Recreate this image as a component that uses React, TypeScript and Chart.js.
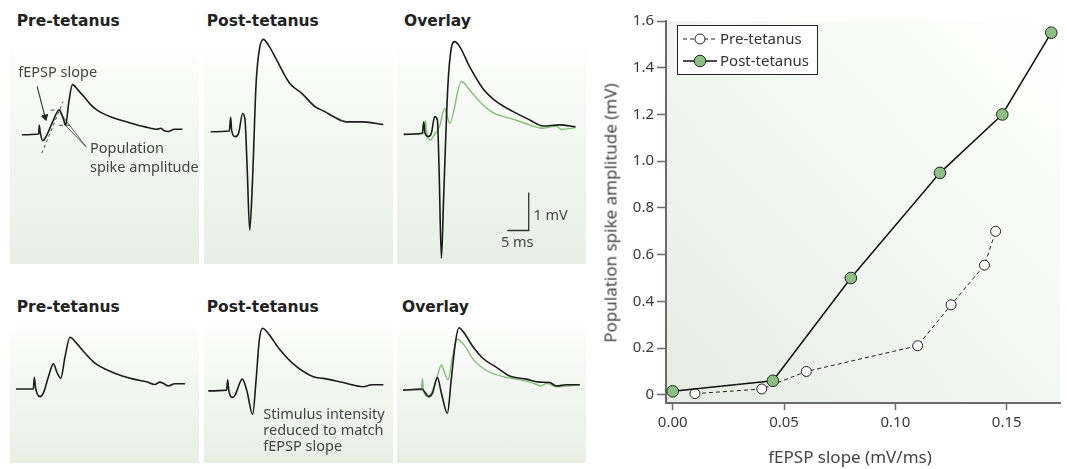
import React, { useEffect, useRef } from 'react';
import { Chart, registerables } from 'chart.js';
Chart.register(...registerables);

type Pt = [number, number];

// ---------- Right chart data ----------
const preSlope = [0.01, 0.04, 0.06, 0.11, 0.125, 0.14, 0.145];
const preAmp = [0.005, 0.025, 0.1, 0.21, 0.385, 0.555, 0.7];
const postSlope = [0, 0.045, 0.08, 0.12, 0.148, 0.17];
const postAmp = [0.015, 0.06, 0.5, 0.95, 1.2, 1.55];
const xTicks = [0, 0.05, 0.1, 0.15];
const yTicks = [0, 0.2, 0.4, 0.6, 0.8, 1.0, 1.2, 1.4, 1.6];

// ---------- Trace data: [time (ms), voltage (mV)] ----------
const preTop: Pt[] = [[1.7, 0], [5.86, 0.02], [6.0, 0.26], [6.25, 0.06], [6.86, -0.16], [7.5, -0.09], [9.37, 0.37], [10.9, 0.68], [11.9, 0.46], [12.5, 0.26], [13.3, 0.89], [14.2, 1.38], [15.6, 1.23], [17.2, 1.03], [18.7, 0.83], [20.3, 0.68], [22.6, 0.54], [25.0, 0.44], [28.1, 0.34], [30.4, 0.26], [32.8, 0.2], [35.1, 0.15], [36.1, 0.18], [36.7, 0.12], [37.9, 0.09], [39.4, 0.15], [41.4, 0.15]];
const postTop: Pt[] = [[1.56, 0.06], [5.93, 0.08], [6.25, 0.44], [6.48, 0.09], [7.33, -0.07], [8.1, 0.02], [9.06, 0.54], [9.6, 0.37], [10.1, -0.86], [10.7, -2.53], [11.3, -1.39], [12.2, 1.33], [12.95, 2.21], [13.9, 2.49], [15.1, 2.34], [17.0, 1.95], [20.1, 1.33], [22.9, 1.07], [26.0, 0.72], [28.3, 0.59], [30.3, 0.46], [33.4, 0.32], [37.3, 0.32], [42.0, 0.25]];
const overlayTopPost: Pt[] = [[1.57, -0.01], [5.94, 0.02], [6.25, 0.32], [6.56, 0.03], [7.26, -0.07], [8.05, 0.02], [8.83, 0.46], [9.46, 0.37], [9.84, -0.86], [10.4, -3.27], [10.9, -1.74], [11.9, 1.24], [12.7, 2.25], [13.5, 2.43], [14.7, 2.3], [17.0, 1.77], [20.1, 1.2], [23.3, 0.85], [27.2, 0.59], [31.1, 0.37], [34.2, 0.21], [38.1, 0.24], [41.8, 0.19]];
const overlayTopPre: Pt[] = [[1.57, -0.01], [6.25, 0.02], [6.65, 0.35], [6.96, 0.03], [7.82, -0.16], [8.43, -0.07], [10.0, 0.21], [11.17, 0.68], [11.7, 0.5], [12.33, 0.28], [15.08, 1.38], [17.0, 1.16], [19.4, 0.85], [22.5, 0.56], [27.2, 0.39], [31.1, 0.24], [34.2, 0.15], [37.3, 0.21], [38.5, 0.12], [41.8, 0.17]];
const preBottom: Pt[] = [[1.4, 0], [5.46, 0], [5.7, 0.31], [6.0, 0.02], [7.03, -0.2], [7.8, -0.11], [9.0, 0.32], [10.15, 0.66], [11.1, 0.41], [11.9, 0.28], [12.9, 0.86], [14.05, 1.36], [15.6, 1.2], [17.6, 0.94], [19.9, 0.68], [24.2, 0.43], [28.9, 0.26], [32.0, 0.19], [33.9, 0.12], [35.1, 0.18], [35.9, 0.15], [37.1, 0.08], [38.6, 0.14], [41.0, 0.14]];
const postBottom: Pt[] = [[1.0, -0.05], [5.3, -0.03], [5.55, 0.24], [5.8, -0.03], [6.7, -0.22], [7.26, -0.16], [8.97, 0.26], [10.0, -0.03], [11.4, -0.67], [12.2, 0.24], [12.95, 1.29], [13.75, 1.6], [14.7, 1.51], [17.8, 1.03], [20.9, 0.66], [25.6, 0.32], [28.0, 0.28], [32.6, 0.17], [37.3, 0.06], [39.3, 0.11], [42.0, 0.11]];
const overlayBottomPost: Pt[] = [[1.4, -0.03], [5.7, 0], [7.5, -0.2], [8.3, -0.11], [9.46, 0.3], [10.4, -0.11], [11.8, -0.64], [12.7, 0.24], [13.7, 1.24], [14.5, 1.61], [15.5, 1.51], [17.8, 1.11], [20.1, 0.81], [23.3, 0.57], [26.4, 0.34], [30.3, 0.26], [33.4, 0.18], [35.8, 0.17], [37.3, 0.08], [39.7, 0.11], [42.8, 0.11]];
const overlayBottomPre: Pt[] = [[1.4, -0.03], [5.7, -0.03], [5.94, 0.28], [6.2, -0.03], [7.26, -0.2], [8.05, -0.11], [9.4, 0.32], [10.4, 0.63], [11.2, 0.41], [11.95, 0.24], [13.0, 0.85], [14.1, 1.31], [15.7, 1.16], [18.0, 0.76], [21.1, 0.48], [25.0, 0.32], [28.9, 0.24], [32.0, 0.15], [33.6, 0.08], [35.1, 0.15], [37.5, 0.06], [42.8, 0.11]];

// annotation guides (ms, mV)
const slopeGuide: Pt[] = [[6.63, -0.51], [11.87, 0.91]];
const slopeArrow: Pt[] = [[5.46, 1.33], [7.43, 0.49]];
const spikeTopDash: Pt[] = [[8.8, 0.68], [11.5, 0.68]];
const spikeBottomDash: Pt[] = [[10.9, 0.26], [14.2, 0.26]];
const leaderA: Pt[] = [[11.08, 0.61], [17.56, -0.33]];
const leaderB: Pt[] = [[12.48, 0.26], [17.56, -0.33]];
const scaleBar: Pt[] = [[25.85, -2.54], [30.85, -2.54], [30.85, -1.54]];

// ---------- layout ----------
const PX_PER_MS = 4.27;
const PX_PER_MV = 38;
const COLS = [10, 204, 397];
const PANEL_W = 189;
const ROWS = [
  { top: 38, h: 226, base: 96 },
  { top: 320, h: 143, base: 69 },
];

const BLACK = '#1c1c1c';
const GREEN = '#80bf73';

const trace = (pts: Pt[], color = BLACK, width = 1.6) => ({ pts, color, width, smooth: true });
const guide = (pts: Pt[], dash: number[] = [], width = 0.9) => ({ pts, color: '#333', width, dash, smooth: false });

function TraceChart({ left, row, series }: any) {
  const ref = useRef<HTMLCanvasElement>(null);
  const r = ROWS[row];
  useEffect(() => {
    const chart = new Chart(ref.current as HTMLCanvasElement, {
      type: 'scatter',
      data: {
        datasets: series.map((s: any) => ({
          data: s.pts.map(([x, y]: Pt) => ({ x, y })),
          showLine: true,
          borderColor: s.color,
          borderWidth: s.width,
          borderDash: s.dash || [],
          cubicInterpolationMode: s.smooth ? 'monotone' : 'default',
          tension: 0,
          pointRadius: s.arrow ? [0, 3.6] : 0,
          pointStyle: 'triangle',
          pointRotation: s.arrow ? [0, 165] : 0,
          pointBackgroundColor: '#222',
          pointBorderColor: '#222',
          pointBorderWidth: 1,
        })),
      },
      options: {
        responsive: false,
        animation: false,
        devicePixelRatio: 1,
        events: [],
        layout: { padding: 0 },
        plugins: { legend: { display: false }, tooltip: { enabled: false } },
        scales: {
          x: { type: 'linear', display: false, min: 0, max: PANEL_W / PX_PER_MS },
          y: { type: 'linear', display: false, min: -(r.h - r.base) / PX_PER_MV, max: r.base / PX_PER_MV },
        },
      },
    } as any);
    return () => chart.destroy();
  }, []);
  return (
    <div
      style={{
        position: 'absolute',
        left,
        top: r.top,
        width: PANEL_W,
        height: r.h,
        background: 'linear-gradient(180deg, #ffffff 0%, #f6f9f5 30%, #e7efe5 100%)',
      }}
    >
      <canvas ref={ref} width={PANEL_W} height={r.h} style={{ display: 'block', width: PANEL_W, height: r.h }} />
    </div>
  );
}

const SANS = '"Noto Sans", "DejaVu Sans", sans-serif';
const BOLD = '"DejaVu Sans", sans-serif';

function Txt({ x, y, children, size = 14.5, bold = false, center = false, color = '#444' }: any) {
  return (
    <div
      style={{
        position: 'absolute',
        left: x,
        top: y,
        fontFamily: bold ? BOLD : SANS,
        fontWeight: bold ? 700 : 400,
        fontSize: size,
        lineHeight: 1,
        color,
        whiteSpace: 'nowrap',
        transform: center ? 'translateX(-50%)' : undefined,
      }}
    >
      {children}
    </div>
  );
}

const bgPlugin = {
  id: 'plotBg',
  beforeDraw(chart: any) {
    const { ctx, chartArea: a } = chart;
    const g = ctx.createLinearGradient(a.left, a.bottom, a.right, a.top);
    g.addColorStop(0, '#e5ede2');
    g.addColorStop(0.45, '#f1f6f0');
    g.addColorStop(1, '#ffffff');
    ctx.save();
    ctx.fillStyle = g;
    ctx.fillRect(a.left, a.top, a.right - a.left, a.bottom - a.top);
    ctx.restore();
  },
};

const legendPlugin = {
  id: 'boxLegend',
  afterDatasetsDraw(chart: any) {
    const ctx = chart.ctx;
    const x0 = 87, y0 = 25, w = 140, h = 49;
    ctx.save();
    ctx.fillStyle = '#ffffff';
    ctx.fillRect(x0, y0, w, h);
    ctx.strokeStyle = '#222';
    ctx.lineWidth = 1;
    ctx.strokeRect(x0 + 0.5, y0 + 0.5, w, h);
    chart.data.datasets.forEach((ds: any, i: number) => {
      const cy = y0 + 14 + i * 22;
      ctx.setLineDash(ds.borderDash || []);
      ctx.lineWidth = ds.borderWidth;
      ctx.strokeStyle = ds.borderColor;
      ctx.beginPath();
      ctx.moveTo(x0 + 6, cy);
      ctx.lineTo(x0 + 40, cy);
      ctx.stroke();
      ctx.setLineDash([]);
      ctx.beginPath();
      ctx.arc(x0 + 23, cy, ds.pointRadius, 0, Math.PI * 2);
      ctx.fillStyle = ds.pointBackgroundColor;
      ctx.fill();
      ctx.lineWidth = 1;
      ctx.strokeStyle = ds.pointBorderColor;
      ctx.stroke();
      ctx.fillStyle = '#333';
      ctx.font = '15px "Noto Sans"';
      ctx.textBaseline = 'middle';
      ctx.textAlign = 'left';
      ctx.fillText(ds.label, x0 + 43, cy + 1);
    });
    ctx.restore();
  },
};

function IOChart() {
  const ref = useRef<HTMLCanvasElement>(null);
  useEffect(() => {
    const tickFont = { family: 'Noto Sans', size: 15 };
    const chart = new Chart(ref.current as HTMLCanvasElement, {
      type: 'scatter',
      data: {
        datasets: [
          {
            label: 'Pre-tetanus',
            data: preSlope.map((x, i) => ({ x, y: preAmp[i] })),
            showLine: true,
            borderColor: '#222',
            borderWidth: 1,
            borderDash: [4, 3],
            pointRadius: 5,
            pointBackgroundColor: '#ffffff',
            pointBorderColor: '#222',
            pointBorderWidth: 1,
            order: 1,
          },
          {
            label: 'Post-tetanus',
            data: postSlope.map((x, i) => ({ x, y: postAmp[i] })),
            showLine: true,
            borderColor: '#111',
            borderWidth: 1.5,
            pointRadius: 5.8,
            pointBackgroundColor: '#8cc083',
            pointBorderColor: '#222',
            pointBorderWidth: 1,
            order: 0,
          },
        ],
      },
      options: {
        responsive: false,
        animation: false,
        devicePixelRatio: 1,
        events: [],
        layout: { padding: { top: 21, right: 4, left: 0, bottom: 0 } },
        plugins: { legend: { display: false }, tooltip: { enabled: false } },
        scales: {
          x: {
            type: 'linear',
            min: -0.003,
            max: 0.174,
            border: { color: '#6a6a6a', width: 2 },
            grid: { drawOnChartArea: false, tickLength: 7, tickColor: '#6a6a6a', tickWidth: 1.5 },
            ticks: { font: tickFont, color: '#3a3a3a', padding: 4, callback: (v: any) => Number(v).toFixed(2) },
            afterBuildTicks: (s: any) => { s.ticks = xTicks.map((value) => ({ value })); },
            afterFit: (s: any) => { s.height = 66; },
          },
          y: {
            type: 'linear',
            min: -0.035,
            max: 1.6,
            border: { color: '#6a6a6a', width: 2 },
            grid: { drawOnChartArea: false, tickLength: 9, tickColor: '#6a6a6a', tickWidth: 1.5 },
            ticks: { font: tickFont, color: '#3a3a3a', padding: 3, callback: (v: any) => (Number(v) === 0 ? '0' : Number(v).toFixed(1)) },
            afterBuildTicks: (s: any) => { s.ticks = yTicks.map((value) => ({ value })); },
            afterFit: (s: any) => { s.width = 76; },
          },
        },
      },
      plugins: [bgPlugin, legendPlugin],
    } as any);
    return () => chart.destroy();
  }, []);
  return <canvas ref={ref} width={477} height={469} style={{ position: 'absolute', left: 590, top: 0, width: 477, height: 469 }} />;
}

const slopeArrowSeries = { ...guide(slopeArrow, [], 1.1), arrow: true };

export default function App() {
  return (
    <div style={{ position: 'absolute', left: 0, top: 0, width: 1067, height: 469, background: '#fff', overflow: 'hidden' }}>
      <TraceChart
        left={COLS[0]}
        row={0}
        series={[
          trace(preTop),
          guide(slopeGuide, [3, 3], 0.9),
          slopeArrowSeries,
          guide(spikeTopDash, [4, 3], 0.9),
          guide(spikeBottomDash, [4, 3], 0.9),
          guide(leaderA, [], 0.8),
          guide(leaderB, [], 0.8),
        ]}
      />
      <TraceChart left={COLS[1]} row={0} series={[trace(postTop)]} />
      <TraceChart
        left={COLS[2]}
        row={0}
        series={[trace(overlayTopPost), trace(overlayTopPre, GREEN, 1.4), guide(scaleBar, [], 1.3)]}
      />
      <TraceChart left={COLS[0]} row={1} series={[trace(preBottom)]} />
      <TraceChart left={COLS[1]} row={1} series={[trace(postBottom)]} />
      <TraceChart left={COLS[2]} row={1} series={[trace(overlayBottomPost), trace(overlayBottomPre, GREEN, 1.4)]} />

      <Txt x={16.7} y={13.6} size={15.5} bold color="#222">Pre-tetanus</Txt>
      <Txt x={206.7} y={13.6} size={15.5} bold color="#222">Post-tetanus</Txt>
      <Txt x={404} y={13.6} size={15.5} bold color="#222">Overlay</Txt>
      <Txt x={16.7} y={300.2} size={15.5} bold color="#222">Pre-tetanus</Txt>
      <Txt x={206.7} y={300.2} size={15.5} bold color="#222">Post-tetanus</Txt>
      <Txt x={402} y={300.2} size={15.5} bold color="#222">Overlay</Txt>

      <Txt x={18.3} y={64.4}>fEPSP slope</Txt>
      <Txt x={90} y={139.8}>Population</Txt>
      <Txt x={90} y={158.8}>spike amplitude</Txt>
      <Txt x={533.5} y={207.1}>1 mV</Txt>
      <Txt x={501} y={234.4}>5 ms</Txt>
      <Txt x={263.3} y={405.5}>Stimulus intensity</Txt>
      <Txt x={263.3} y={421.7}>reduced to match</Txt>
      <Txt x={263.3} y={438}>fEPSP slope</Txt>

      <IOChart />
      <Txt x={850} y={448.2} size={17} center color="#444">fEPSP slope (mV/ms)</Txt>
      <div
        style={{
          position: 'absolute',
          left: 610,
          top: 212.5,
          fontFamily: SANS,
          fontSize: 17,
          lineHeight: 1,
          color: '#444',
          whiteSpace: 'nowrap',
          transform: 'translate(-50%, -50%) rotate(-90deg)',
        }}
      >
        Population spike amplitude (mV)
      </div>
    </div>
  );
}
